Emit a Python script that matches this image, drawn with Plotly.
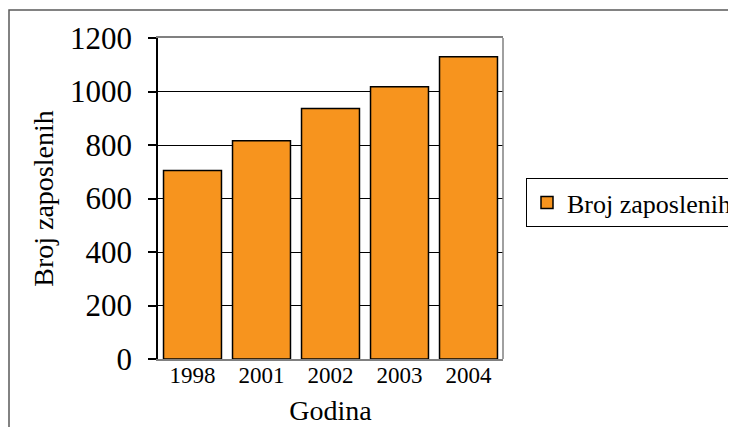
import plotly.graph_objects as go

years = ["1998", "2001", "2002", "2003", "2004"]
employees = [705, 816, 936, 1018, 1130]
series_name = "Broj zaposlenih"
y_ticks = [0, 200, 400, 600, 800, 1000, 1200]

FONT = "Liberation Serif, Times New Roman, serif"

fig = go.Figure()
fig.add_trace(go.Bar(
    x=years, y=employees, name=series_name,
    marker=dict(color="#F7941E", line=dict(color="#000000", width=1.5)),
    showlegend=True,
))

# page body has an 8px margin, so figure coords = screen coords - 8;
# figure sized so that it fits the 736x427 window exactly
OFF = 8
W, H = 736 - OFF, 427 - OFF
L, T = 158 - OFF, 38 - OFF
R = W - (503 - OFF)
B = H - (359 - OFF)
pw = W - L - R
ph = H - T - B

fig.update_layout(
    width=W, height=H,
    margin=dict(l=L, r=R, t=T, b=B, autoexpand=False),
    paper_bgcolor="white", plot_bgcolor="white",
    bargap=0.16,
    font=dict(family=FONT, color="black"),
    showlegend=True,
    legend=dict(
        x=(526 - OFF - L) / pw, y=(H - B - (178 - OFF)) / ph, xanchor="left", yanchor="top",
        bordercolor="black", borderwidth=1, bgcolor="white",
        font=dict(family=FONT, size=26, color="black"),
        itemwidth=30,
    ),
    xaxis=dict(
        type="category",
        showline=True, linecolor="#808080", linewidth=1.5, mirror=True,
        ticks="", showgrid=False,
        tickfont=dict(family=FONT, size=23),
        ticklabelstandoff=-5,
        title=dict(text="Godina", font=dict(family=FONT, size=28), standoff=13),
    ),
    yaxis=dict(
        range=[0, 1200], tickvals=y_ticks,
        showline=True, linecolor="black", linewidth=1.5,
        ticks="outside", ticklen=8, tickcolor="black", tickwidth=1.5,
        showgrid=True, gridcolor="black", gridwidth=1.2,
        zeroline=False,
        tickfont=dict(family=FONT, size=31),
        ticklabelstandoff=10,
        title=dict(text="Broj zaposlenih", font=dict(family=FONT, size=28), standoff=8),
    ),
    shapes=[
        dict(type="line", xref="paper", yref="paper", x0=1, x1=1, y0=0, y1=1,
             line=dict(color="#808080", width=1.5)),
        dict(type="rect", xref="paper", yref="paper",
             x0=(1 - L) / pw, x1=(W + 20 - L) / pw,
             y0=-(B + 20) / ph, y1=(H - B - (10 - OFF)) / ph,
             line=dict(color="#5a5a5a", width=1.5), layer="below"),
    ],
)

fig.write_html("out.html")
